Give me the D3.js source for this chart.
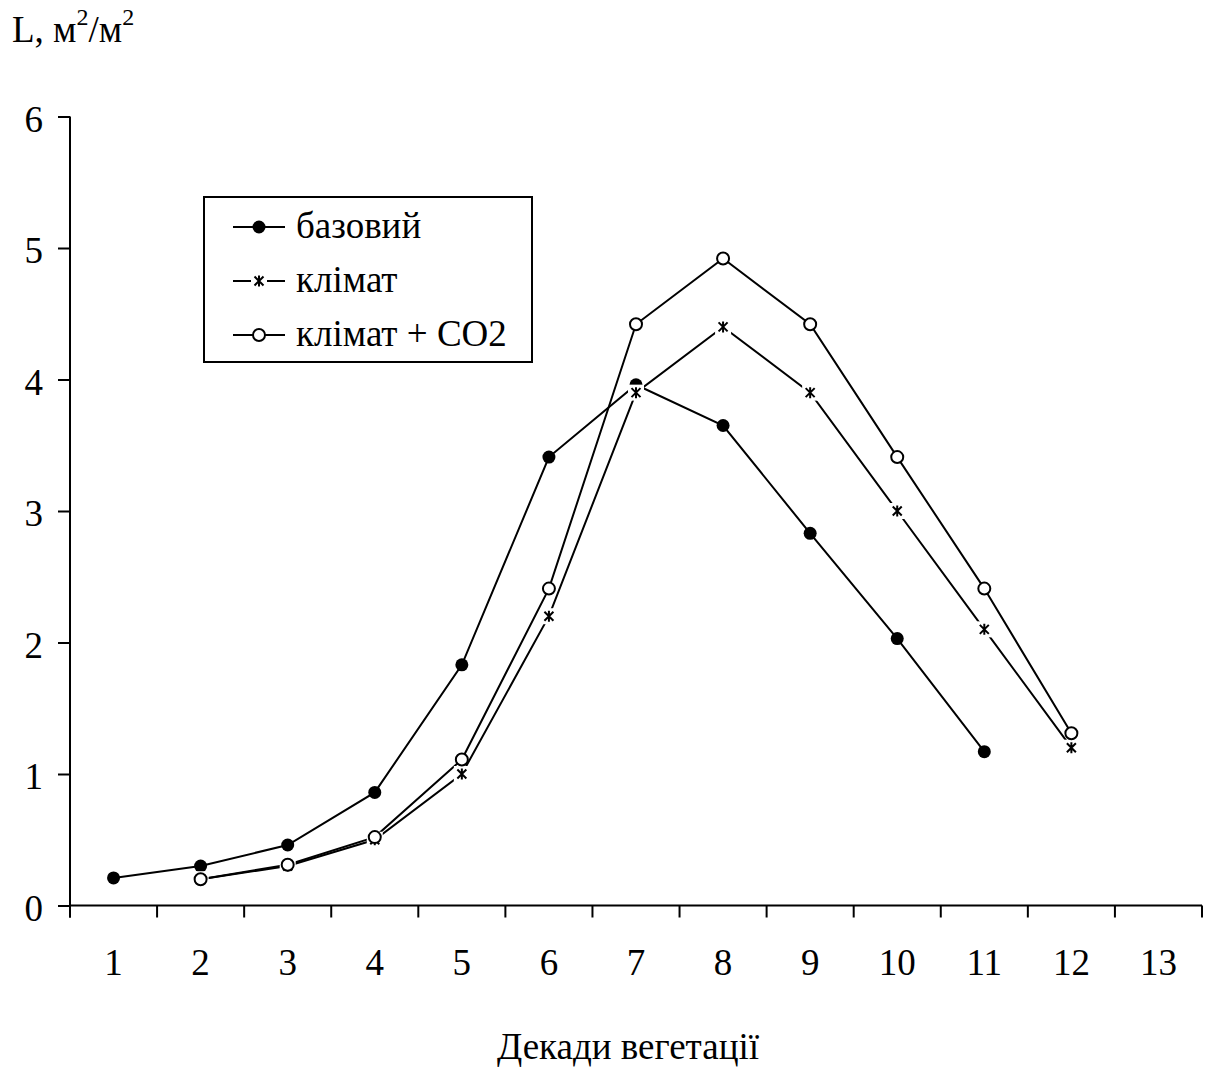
<!DOCTYPE html>
<html>
<head>
<meta charset="utf-8">
<script src="https://cdn.jsdelivr.net/npm/d3@7"></script>
<style>
  html, body { margin: 0; padding: 0; background: #fff; }
  svg { display: block; }
  text { font-family: "Liberation Serif", "Times New Roman", serif; fill: #000; }
</style>
</head>
<body>
<svg id="chart" width="1208" height="1070"></svg>
<script>
// ---- data ----
const categories = ["1","2","3","4","5","6","7","8","9","10","11","12","13"];
const yTicks = [0, 1, 2, 3, 4, 5, 6];
const seriesNames = ["базовий", "клімат", "клімат + CO2"];
const bazovyi = [0.21, 0.30, 0.46, 0.86, 1.83, 3.41, 3.96, 3.65, 2.83, 2.03, 1.17, null, null];
const klimat  = [null, 0.20, 0.30, 0.50, 1.00, 2.20, 3.90, 4.40, 3.90, 3.00, 2.10, 1.20, null];
const klimatCO2 = [null, 0.20, 0.31, 0.52, 1.11, 2.41, 4.42, 4.92, 4.42, 3.41, 2.41, 1.31, null];
const xTitle = "Декади вегетації";

(function () {
// ---- layout ----
const svg = d3.select("#chart");
const mLeft = 70, mRight = 1202, mTop = 116.5, mBottom = 905.5;
const FS = 37;

const x = d3.scaleBand().domain(categories).range([mLeft, mRight]).padding(0);
const y = d3.scaleLinear().domain([0, 6]).range([mBottom, mTop]);
const cx = c => x(c) + x.bandwidth() / 2;

function addText(parent, tx, ty, anchor, size) {
  return parent.append("text").attr("x", tx).attr("y", ty)
    .attr("text-anchor", anchor).attr("font-size", size);
}

// axes
const yAxis = d3.axisLeft(y).tickValues(yTicks).tickSize(12).tickSizeOuter(0).tickPadding(15).tickFormat(d3.format("d"));
const gy = svg.append("g").attr("transform", `translate(${mLeft},0)`).call(yAxis);
gy.select(".domain").remove();
gy.append("line").attr("x1", 0).attr("x2", 0).attr("y1", mTop).attr("y2", mBottom + 12)
  .attr("stroke", "#000").attr("stroke-width", 2);
gy.selectAll(".tick line").attr("stroke", "#000").attr("stroke-width", 2);
gy.selectAll(".tick text").attr("dy", "0.4em")
  .attr("font-size", FS).attr("text-anchor", "end")
  .attr("font-family", "Liberation Serif, Times New Roman, serif").attr("fill", "#000");

// x axis: ticks at band boundaries
const gx = svg.append("g");
gx.append("line").attr("x1", mLeft).attr("x2", mRight).attr("y1", mBottom).attr("y2", mBottom)
  .attr("stroke", "#000").attr("stroke-width", 2);
const boundaries = categories.map(c => x(c)).concat([mRight]);
gx.selectAll("line.tk").data(boundaries).enter().append("line").attr("class", "tk")
  .attr("x1", d => d).attr("x2", d => d).attr("y1", mBottom).attr("y2", mBottom + 12)
  .attr("stroke", "#000").attr("stroke-width", 2);
categories.forEach(c => addText(gx, cx(c), 975, "middle", FS).text(c));

// titles
addText(svg, 628, 1059, "middle", FS).text(xTitle);
const yt = addText(svg, 12, 42, "start", FS);
yt.append("tspan").text("L, м");
yt.append("tspan").attr("font-size", 24).attr("dy", -17).text("2");
yt.append("tspan").attr("dy", 17).text("/м");
yt.append("tspan").attr("font-size", 24).attr("dy", -17).text("2");

// ---- series ----
const allSeries = [bazovyi, klimat, klimatCO2];
const line = d3.line().defined(d => d.v != null).x(d => cx(d.c)).y(d => y(d.v));

// lines first
allSeries.forEach(s => {
  const pts = categories.map((c, i) => ({c, v: s[i]}));
  svg.append("path").datum(pts).attr("d", line).attr("fill", "none")
    .attr("stroke", "#000").attr("stroke-width", 2);
});

const asterisk = "M0,-5.5L0,5.5M-4.5,-4.5L4.5,4.5M4.5,-4.5L-4.5,4.5";
function drawMarker(g, kind) {
  if (kind === 0) {
    g.append("circle").attr("r", 6.5).attr("fill", "#000");
  } else if (kind === 1) {
    g.append("rect").attr("x", -8).attr("y", -8).attr("width", 16).attr("height", 16).attr("fill", "#fff");
    g.append("path").attr("d", asterisk).attr("stroke", "#000").attr("stroke-width", 2).attr("fill", "none");
  } else {
    g.append("circle").attr("r", 6).attr("fill", "#fff").attr("stroke", "#000").attr("stroke-width", 2);
  }
}

// markers
allSeries.forEach((s, k) => {
  categories.forEach((c, i) => {
    if (s[i] == null) return;
    const g = svg.append("g").attr("transform", `translate(${cx(c)},${y(s[i])})`);
    drawMarker(g, k);
  });
});

// ---- legend ----
const lg = svg.append("g");
lg.append("rect").attr("x", 204).attr("y", 197).attr("width", 328).attr("height", 165)
  .attr("fill", "#fff").attr("stroke", "#000").attr("stroke-width", 2);
seriesNames.forEach((name, k) => {
  const yy = 227 + k * 54;
  lg.append("line").attr("x1", 233).attr("x2", 285).attr("y1", yy).attr("y2", yy)
    .attr("stroke", "#000").attr("stroke-width", 2);
  const g = lg.append("g").attr("transform", `translate(259,${yy})`);
  drawMarker(g, k);
  addText(lg, 296, yy + 11, "start", FS).text(name);
});
})();
</script>
</body>
</html>
